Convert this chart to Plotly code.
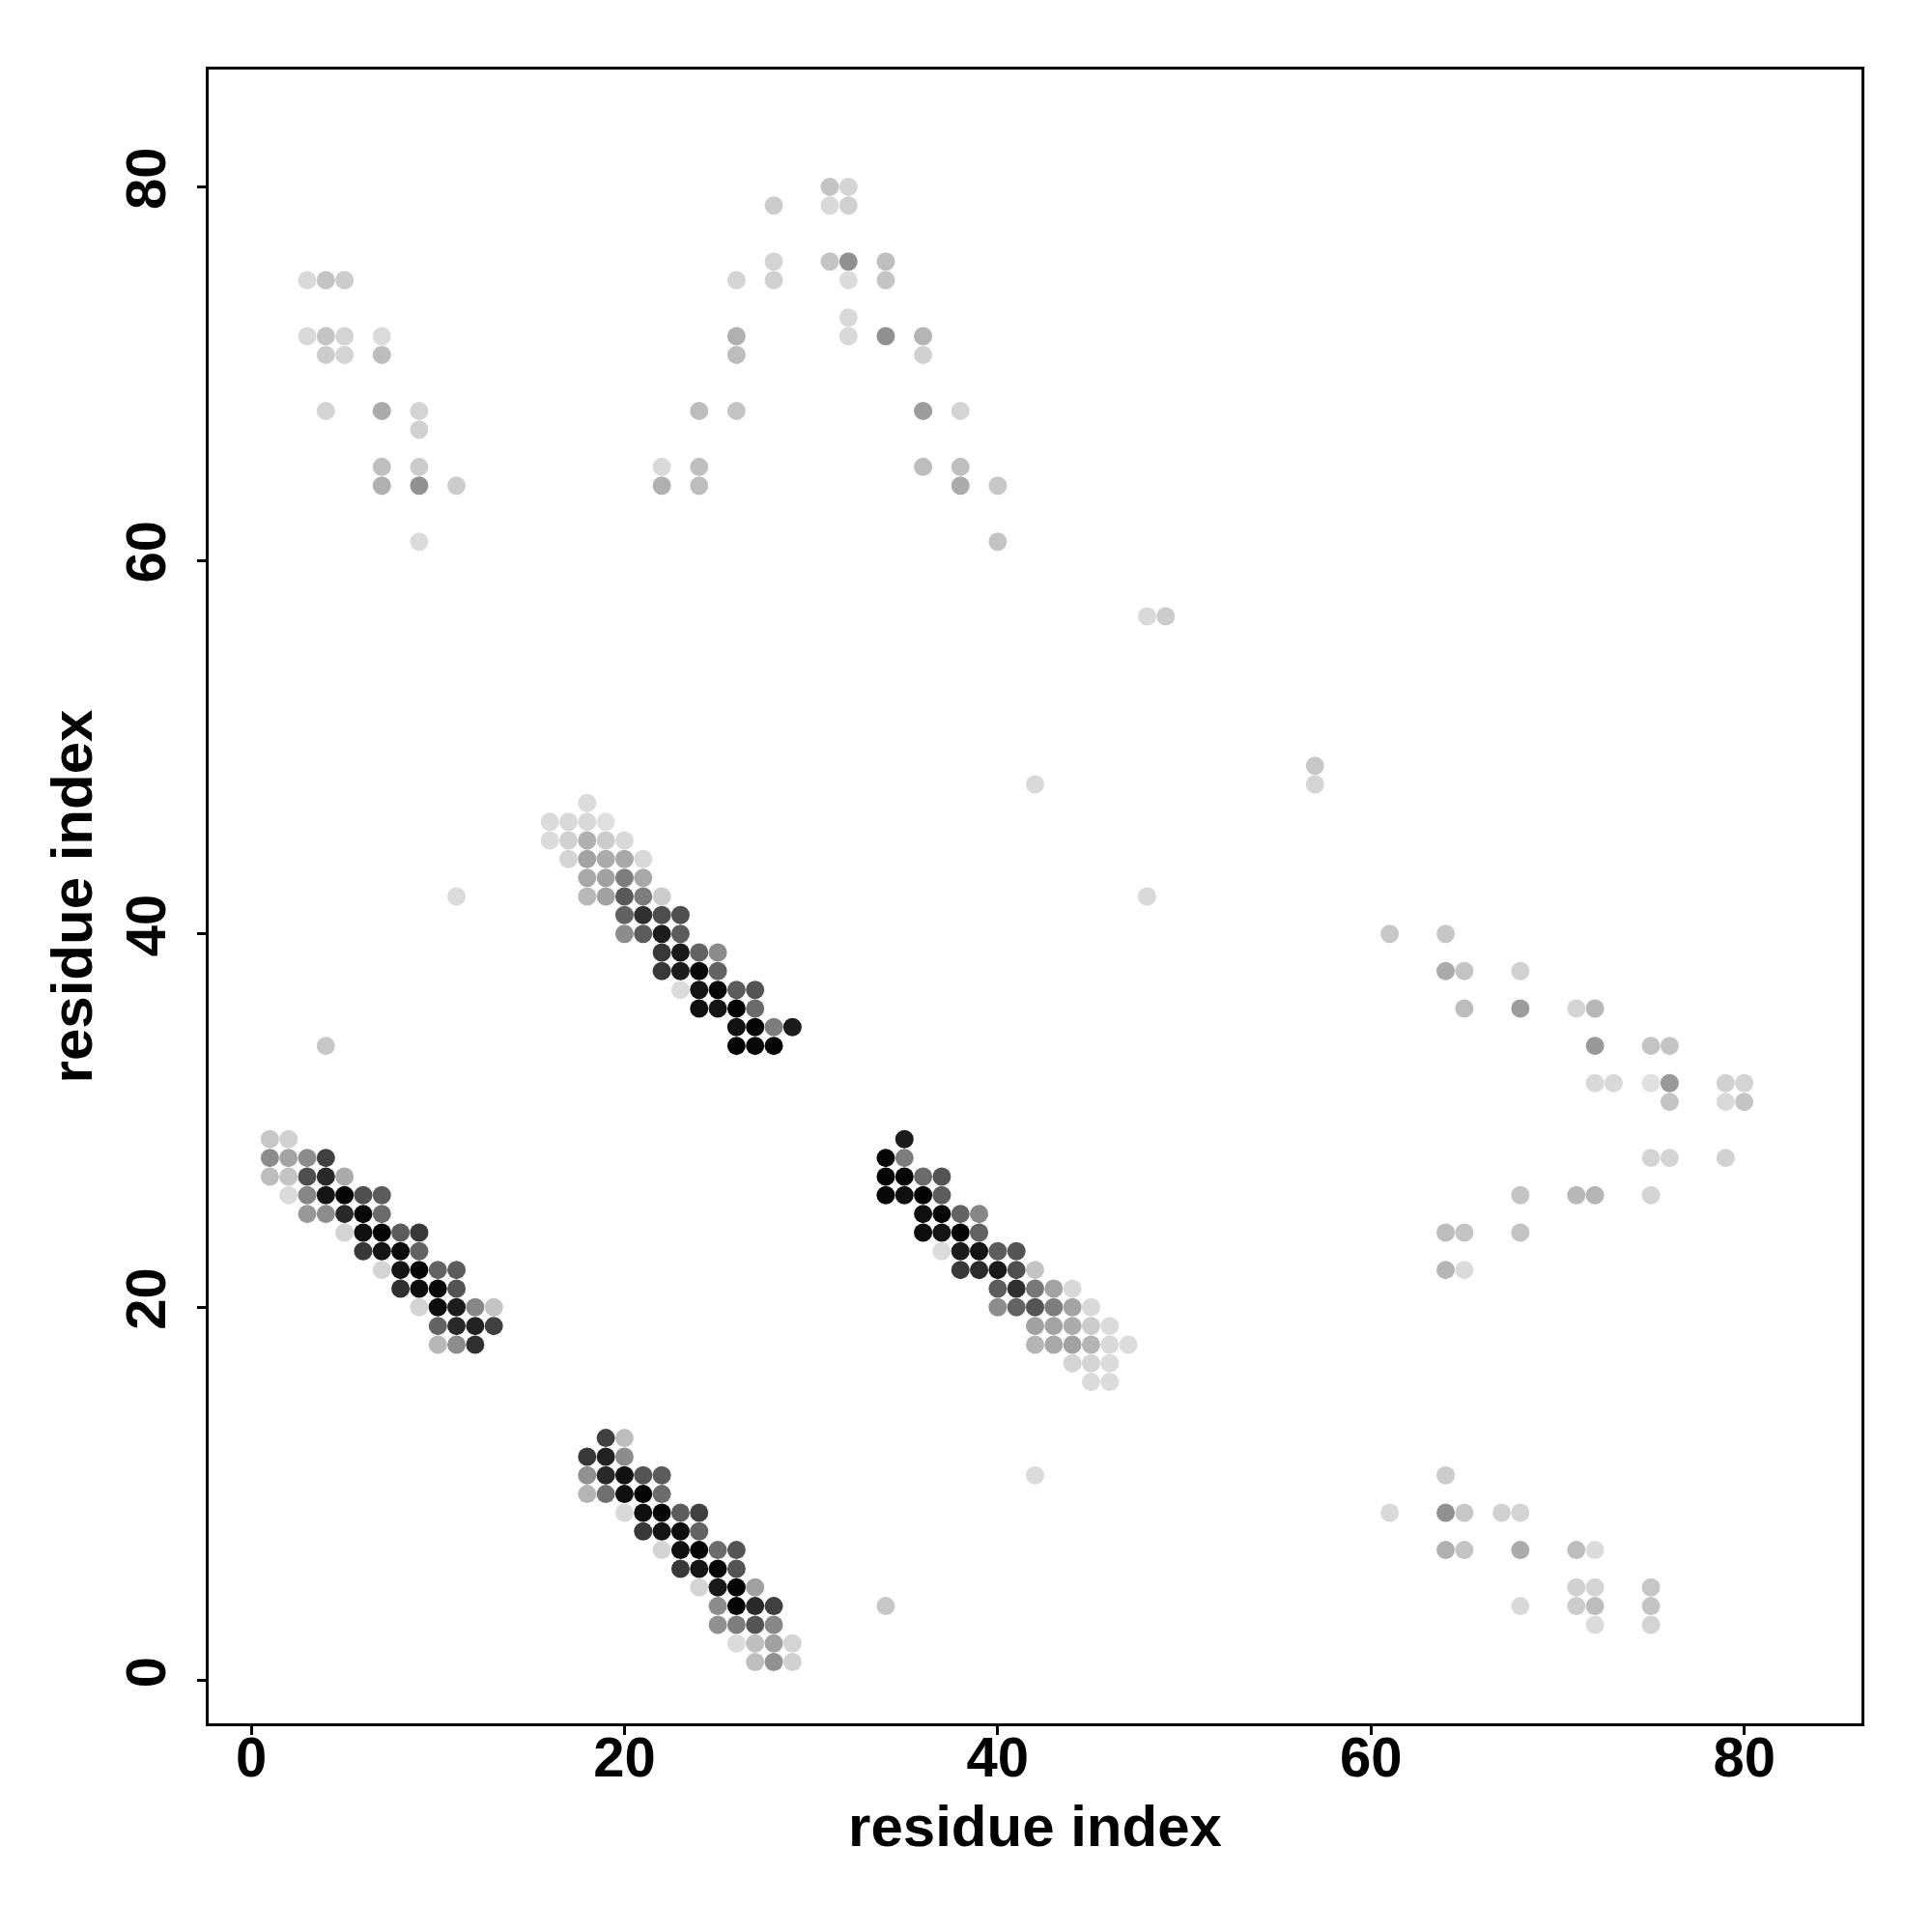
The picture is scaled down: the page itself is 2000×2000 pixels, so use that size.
import plotly.graph_objects as go

# (residue i, residue j, contact probability)
top_left = [
    (3, 75, .15), (4, 75, .23), (5, 75, .20),
    (3, 72, .15), (4, 72, .23), (5, 72, .17), (7, 72, .14),
    (4, 71, .20), (5, 71, .17), (7, 71, .26),
    (4, 68, .17), (7, 68, .33), (9, 68, .17),
    (9, 67, .18),
    (7, 65, .25), (9, 65, .20),
    (7, 64, .31), (9, 64, .43), (11, 64, .20),
    (9, 61, .14),
]

top_mid = [
    (31, 80, .23), (32, 80, .17),
    (28, 79, .20), (31, 79, .15), (32, 79, .18),
    (28, 76, .17), (31, 76, .23), (32, 76, .43), (34, 76, .25),
    (26, 75, .17), (28, 75, .18), (32, 75, .14), (34, 75, .23),
    (32, 73, .15),
    (26, 72, .31), (32, 72, .15), (34, 72, .43), (36, 72, .29),
    (26, 71, .26), (36, 71, .18),
    (24, 68, .26), (26, 68, .23), (36, 68, .39), (38, 68, .17),
    (22, 65, .15), (24, 65, .25), (36, 65, .26), (38, 65, .25),
    (22, 64, .31), (24, 64, .26), (38, 64, .33), (40, 64, .22),
    (40, 61, .23),
]

scattered = [
    (48, 57, .15), (49, 57, .20), (57, 49, .22), (57, 48, .17),
    (42, 48, .15), (48, 42, .15), (11, 42, .14), (4, 34, .22),
    (34, 4, .22), (42, 11, .14),
]

mid_band = [
    (18, 47, .14),
    (16, 46, .14), (17, 46, .15), (18, 46, .15), (19, 46, .12),
    (16, 45, .14), (17, 45, .18), (18, 45, .31), (19, 45, .20), (20, 45, .15),
    (17, 44, .17), (18, 44, .36), (19, 44, .33), (20, 44, .34), (21, 44, .15),
    (18, 43, .34), (19, 43, .37), (20, 43, .51), (21, 43, .34),
    (18, 42, .28), (19, 42, .37), (20, 42, .65), (21, 42, .51), (22, 42, .20),
    (20, 41, .62), (21, 41, .81), (22, 41, .70), (23, 41, .69),
    (20, 40, .45), (21, 40, .64), (22, 40, .89), (23, 40, .64),
    (22, 39, .78), (23, 39, .90), (24, 39, .61), (25, 39, .45),
    (22, 38, .78), (23, 38, .89), (24, 38, .97), (25, 38, .61),
    (23, 37, .14), (24, 37, .92), (25, 37, .98), (26, 37, .64), (27, 37, .67),
    (24, 36, .94), (25, 36, .92), (26, 36, .99), (27, 36, .58),
    (26, 35, .93), (27, 35, .98), (28, 35, .51), (29, 35, .89),
    (26, 34, .98), (27, 34, .97), (28, 34, .98),
]

left_band = [
    (1, 29, .22), (2, 29, .18),
    (1, 28, .45), (2, 28, .36), (3, 28, .45), (4, 28, .75),
    (1, 27, .26), (2, 27, .23), (3, 27, .69), (4, 27, .84), (5, 27, .33),
    (2, 26, .14), (3, 26, .47), (4, 26, .92), (5, 26, .98), (6, 26, .69), (7, 26, .64),
    (3, 25, .40), (4, 25, .45), (5, 25, .84), (6, 25, .97), (7, 25, .58),
    (5, 24, .17), (6, 24, .94), (7, 24, .98), (8, 24, .64), (9, 24, .78),
    (6, 23, .78), (7, 23, .92), (8, 23, .95), (9, 23, .61),
    (7, 22, .17), (8, 22, .92), (9, 22, .98), (10, 22, .61), (11, 22, .64),
    (8, 21, .81), (9, 21, .95), (10, 21, .96), (11, 21, .67),
    (9, 20, .17), (10, 20, .95), (11, 20, .89), (12, 20, .47), (13, 20, .23),
    (10, 19, .61), (11, 19, .84), (12, 19, .87), (13, 19, .75),
    (10, 18, .28), (11, 18, .45), (12, 18, .81),
]

bottom_band = [
    (19, 13, .75), (20, 13, .26),
    (18, 12, .78), (19, 12, .87), (20, 12, .45),
    (18, 11, .43), (19, 11, .84), (20, 11, .93), (21, 11, .67), (22, 11, .64),
    (18, 10, .29), (19, 10, .56), (20, 10, .94), (21, 10, .98), (22, 10, .58),
    (20, 9, .15), (21, 9, .94), (22, 9, .98), (23, 9, .64), (24, 9, .75),
    (21, 8, .78), (22, 8, .92), (23, 8, .95), (24, 8, .61),
    (22, 7, .17), (23, 7, .94), (24, 7, .98), (25, 7, .58), (26, 7, .67),
    (23, 6, .78), (24, 6, .92), (25, 6, .98), (26, 6, .67),
    (24, 5, .17), (25, 5, .90), (26, 5, .98), (27, 5, .37),
    (25, 4, .45), (26, 4, .98), (27, 4, .84), (28, 4, .75),
    (25, 3, .43), (26, 3, .51), (27, 3, .67), (28, 3, .47),
    (26, 2, .14), (27, 2, .25), (28, 2, .37), (29, 2, .17),
    (27, 1, .25), (28, 1, .43), (29, 1, .18),
]

right_band = [
    (35, 29, .89),
    (34, 28, .98), (35, 28, .51),
    (34, 27, .98), (35, 27, .98), (36, 27, .58), (37, 27, .67),
    (34, 26, .97), (35, 26, .94), (36, 26, .99), (37, 26, .64),
    (36, 25, .94), (37, 25, .98), (38, 25, .61), (39, 25, .47),
    (36, 24, .95), (37, 24, .92), (38, 24, .98), (39, 24, .61),
    (37, 23, .14), (38, 23, .89), (39, 23, .92), (40, 23, .64), (41, 23, .67),
    (38, 22, .78), (39, 22, .83), (40, 22, .90), (41, 22, .69), (42, 22, .23),
    (40, 21, .64), (41, 21, .81), (42, 21, .53), (43, 21, .36), (44, 21, .15),
    (40, 20, .45), (41, 20, .61), (42, 20, .67), (43, 20, .51), (44, 20, .36), (45, 20, .15),
    (42, 19, .37), (43, 19, .36), (44, 19, .33), (45, 19, .20), (46, 19, .14),
    (42, 18, .29), (43, 18, .34), (44, 18, .37), (45, 18, .29), (46, 18, .15), (47, 18, .14),
    (44, 17, .17), (45, 17, .17), (46, 17, .14),
    (45, 16, .14), (46, 16, .14),
]

right_upper = [
    (61, 40, .22), (64, 40, .22),
    (64, 38, .33), (65, 38, .23), (68, 38, .18),
    (65, 36, .26), (68, 36, .39), (71, 36, .17), (72, 36, .28),
    (72, 34, .40), (75, 34, .23), (76, 34, .23),
    (72, 32, .15), (73, 32, .15), (75, 32, .12), (76, 32, .40), (79, 32, .18), (80, 32, .17),
    (76, 31, .23), (79, 31, .15), (80, 31, .23),
    (75, 28, .17), (76, 28, .17), (79, 28, .18),
    (68, 26, .23), (71, 26, .28), (72, 26, .29), (75, 26, .17),
    (64, 24, .26), (65, 24, .23), (68, 24, .23),
    (64, 22, .29), (65, 22, .14),
]

right_lower = [
    (64, 11, .20),
    (61, 9, .15), (64, 9, .43), (65, 9, .22), (67, 9, .18), (68, 9, .17),
    (64, 7, .31), (65, 7, .23), (68, 7, .33), (71, 7, .26), (72, 7, .14),
    (71, 5, .18), (72, 5, .17), (75, 5, .22),
    (68, 4, .15), (71, 4, .20), (72, 4, .26), (75, 4, .23),
    (72, 3, .14), (75, 3, .17),
]

tick_vals = [0, 20, 40, 60, 80]
axis_title = "residue index"

groups = [top_left, top_mid, scattered, mid_band, left_band,
          bottom_band, right_band, right_upper, right_lower]
pts = [p for g in groups for p in g]
xs = [p[0] for p in pts]
ys = [p[1] for p in pts]
ps = [p[2] for p in pts]

fig = go.Figure(go.Scatter(
    x=xs, y=ys, mode="markers",
    marker=dict(size=19, color=ps, cmin=0, cmax=1,
                colorscale=[[0, "rgb(255,255,255)"], [1, "rgb(0,0,0)"]],
                line=dict(width=0), opacity=1),
    hovertemplate="i=%{x}, j=%{y}<br>p=%{marker.color}<extra></extra>",
))

font_family = "Liberation Sans, Arial, Helvetica, sans-serif"
axis_common = dict(
    range=[-2.28, 86.28], tickvals=tick_vals, ticks="outside",
    ticklen=9, tickwidth=3, tickcolor="black",
    showline=True, linewidth=3, linecolor="black", mirror=True,
    showgrid=False, zeroline=False,
    tickfont=dict(family=font_family, size=58, color="black", weight="bold"),
)
title_font = dict(family=font_family, size=60, color="black", weight="bold")

fig.update_layout(
    width=2000, height=2000,
    margin=dict(l=208, r=81, t=64, b=224),
    paper_bgcolor="white", plot_bgcolor="white",
    showlegend=False,
    xaxis=dict(**axis_common, ticklabelstandoff=-27,
               title=dict(text=axis_title, standoff=20, font=title_font)),
    yaxis=dict(**axis_common, tickangle=-90, ticklabelstandoff=10,
               title=dict(text=axis_title, standoff=3, font=title_font)),
)

fig.write_html("out.html")
